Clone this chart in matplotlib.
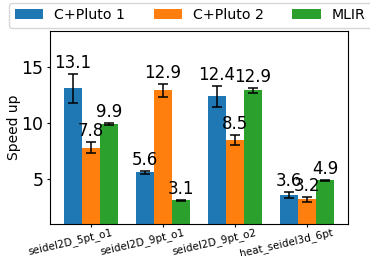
import matplotlib
matplotlib.use("Agg")
import matplotlib.pyplot as plt
import numpy as np
from matplotlib.transforms import ScaledTranslation

benchmarks = ["seidel2D_5pt_o1", "seidel2D_9pt_o1", "seidel2D_9pt_o2", "heat_seidel3d_6pt"]
series_names = ["C+Pluto 1", "C+Pluto 2", "MLIR"]
pluto1 = [13.1, 5.6, 12.4, 3.6]
pluto1_err = [1.3, 0.12, 0.93, 0.25]
pluto2 = [7.8, 12.9, 8.5, 3.2]
pluto2_err = [0.5, 0.6, 0.42, 0.22]
mlir = [9.9, 3.1, 12.9, 4.9]
mlir_err = [0.1, 0.03, 0.2, 0.03]
colors = ["#1f77b4", "#ff7f0e", "#2ca02c"]

fig = plt.figure(figsize=(3.7, 2.56), dpi=100)
ax = fig.add_axes([50 / 370, 32 / 256, 297.7 / 370, 193 / 256])

x = np.arange(len(benchmarks))
w = 0.25
all_vals = [pluto1, pluto2, mlir]
all_errs = [pluto1_err, pluto2_err, mlir_err]
for i, (vals, errs) in enumerate(zip(all_vals, all_errs)):
    cont = ax.bar(x + (i - 1) * w, vals, w, yerr=errs, color=colors[i],
                  label=series_names[i], capsize=3.5,
                  error_kw=dict(ecolor="black", elinewidth=1.1, capthick=1.1))
    ax.bar_label(cont, labels=[f"{v:.1f}" for v in vals], padding=1.3, fontsize=12)

ax.set_ylim(1, 18.2)
ax.set_yticks([5, 10, 15])
ax.tick_params(axis="y", labelsize=12.5, length=2.4, pad=2.4)
ax.tick_params(axis="x", labelsize=7.5, length=2.4, pad=2.4)
ax.set_ylabel("Speed up", fontsize=10, labelpad=0.5)
ax.set_xticks(x)
ax.set_xticklabels(benchmarks, rotation=13, ha="center")
offset = ScaledTranslation(-20.5 / 100, 3.6 / 100, fig.dpi_scale_trans)
for lab in ax.get_xticklabels():
    lab.set_transform(lab.get_transform() + offset)

fig.legend(loc="upper left", bbox_to_anchor=(9 / 370, 1 - 2.7 / 256),
           bbox_transform=fig.transFigure, ncol=3, fontsize=10.2, borderaxespad=0)

fig.savefig("out.png", dpi=100)
